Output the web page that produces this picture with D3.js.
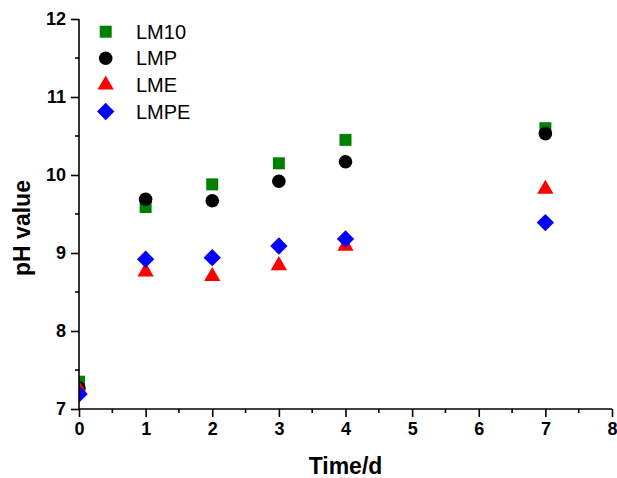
<!DOCTYPE html>
<html>
<head>
<meta charset="utf-8">
<script src="https://cdn.jsdelivr.net/npm/d3@7"></script>
<style>
  body { margin: 0; background: #fff; }
  text { font-family: Arial, "Liberation Sans", sans-serif; }
</style>
</head>
<body>
<script>
var width = 617;
var height = 478;

// days and pH readings per sample
var days = [0, 1, 2, 3, 4, 7];
var lm10 = [7.35, 9.59, 9.88, 10.15, 10.45, 10.6];
var lmp = [7.27, 9.69, 9.67, 9.92, 10.17, 10.53];
var lme = [7.25, 8.76, 8.70, 8.84, 9.09, 9.82];
var lmpe = [7.19, 8.92, 8.94, 9.09, 9.18, 9.39];

var xTicks = [0, 1, 2, 3, 4, 5, 6, 7, 8];
var yTicks = [7, 8, 9, 10, 11, 12];

var series = [
    { name: "LM10", values: lm10, color: "#008000", shape: "square" },
    { name: "LMP", values: lmp, color: "#000000", shape: "circle" },
    { name: "LME", values: lme, color: "#ff0000", shape: "triangle" },
    { name: "LMPE", values: lmpe, color: "#0000ff", shape: "diamond" }
];

var margin = { left: 79, right: 5, top: 19, bottom: 69 };

var x = d3.scaleLinear().domain([0, 8]).range([margin.left, width - margin.right]);
var y = d3.scaleLinear().domain([7, 12]).range([height - margin.bottom, margin.top]);

var svg = d3.select("body").append("svg")
    .attr("width", width)
    .attr("height", height);

function symbolPath(shape) {
    if (shape === "square") return d3.symbol(d3.symbolSquare, 144)();
    if (shape === "circle") return d3.symbol(d3.symbolCircle, 145)();
    if (shape === "triangle") return d3.symbol(d3.symbolTriangle, 115)();
    return d3.symbol(d3.symbolSquare, 150)();
}
function symbolRotate(shape) {
    return shape === "diamond" ? " rotate(45)" : "";
}

svg.append("defs").append("clipPath").attr("id", "plotclip")
    .append("rect")
    .attr("x", margin.left)
    .attr("y", 0)
    .attr("width", width - margin.left)
    .attr("height", height - margin.bottom);

// points
var plot = svg.append("g").attr("clip-path", "url(#plotclip)");
series.forEach(function(s) {
    plot.selectAll(null)
        .data(days.map((d, i) => ({ day: d, v: s.values[i] })))
        .enter().append("path")
        .attr("d", symbolPath(s.shape))
        .attr("transform", (d) => `translate(${x(d.day)},${y(d.v)})` + symbolRotate(s.shape))
        .attr("fill", s.color);
});

// axes
var xAxis = d3.axisBottom(x).tickValues(xTicks).tickFormat(d3.format("d")).tickSize(8).tickPadding(5);
var yAxis = d3.axisLeft(y).tickValues(yTicks).tickFormat(d3.format("d")).tickSize(8).tickPadding(5);

var gx = svg.append("g").attr("transform", `translate(0,${y(7)})`).call(xAxis);
var gy = svg.append("g").attr("transform", `translate(${x(0)},0)`).call(yAxis);

[gx, gy].forEach(function(g) {
    g.select(".domain").attr("stroke", "#000").attr("stroke-width", 1.6);
    g.selectAll(".tick line").attr("stroke", "#000").attr("stroke-width", 1.6);
    g.selectAll(".tick text")
        .attr("fill", "#000")
        .style("font-size", "18px")
        .style("font-weight", "bold");
});
gx.select(".domain").attr("d", `M${x(0)},0H${x(8)}`);
gy.select(".domain").attr("d", `M0,${y(7)}V${y(12)}`);

// minor ticks
var xMinor = d3.range(0.5, 8, 1);
var yMinor = d3.range(7.5, 12, 1);
svg.append("g").selectAll("line").data(xMinor).enter().append("line")
    .attr("x1", (d) => x(d)).attr("x2", (d) => x(d))
    .attr("y1", y(7)).attr("y2", y(7) + 4)
    .attr("stroke", "#000").attr("stroke-width", 1.6);
svg.append("g").selectAll("line").data(yMinor).enter().append("line")
    .attr("y1", (d) => y(d)).attr("y2", (d) => y(d))
    .attr("x1", x(0)).attr("x2", x(0) - 4)
    .attr("stroke", "#000").attr("stroke-width", 1.6);

// axis titles
svg.append("text")
    .attr("x", (x(0) + x(8)) / 2)
    .attr("y", 474)
    .attr("text-anchor", "middle")
    .style("font-size", "23px")
    .style("font-weight", "bold")
    .text("Time/d");

svg.append("text")
    .attr("transform", "translate(30,228) rotate(-90)")
    .attr("text-anchor", "middle")
    .style("font-size", "23px")
    .style("font-weight", "bold")
    .text("pH value");

// legend
var legend = svg.append("g");
series.forEach(function(s, i) {
    var ly = 31.7 + i * 26.6;
    legend.append("path")
        .attr("d", symbolPath(s.shape))
        .attr("transform", `translate(105.7,${ly})` + symbolRotate(s.shape))
        .attr("fill", s.color);
    legend.append("text")
        .attr("x", 136)
        .attr("y", ly + 7)
        .style("font-size", "20px")
        .text(s.name);
});
</script>
</body>
</html>
